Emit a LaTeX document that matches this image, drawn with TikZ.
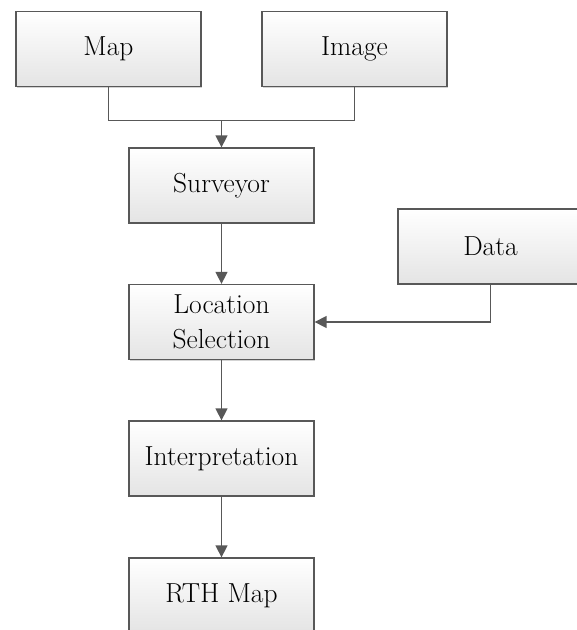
\documentclass[tikz,border=0pt]{standalone}
\usetikzlibrary{arrows.meta,shadows}
\definecolor{linegray}{RGB}{88,88,88}
\definecolor{boxbottom}{RGB}{228,228,228}
\tikzset{
  procbox/.style={draw=linegray, line width=1.3pt, top color=white, bottom color=boxbottom,
    minimum width=185pt, minimum height=75pt, inner sep=0pt, align=center,
    font=\fontsize{27.5}{35}\selectfont,
    drop shadow={shadow xshift=1.2pt, shadow yshift=-1.2pt, opacity=0.35, fill=gray}},
  conn/.style={draw=linegray, line width=1.4pt},
  arr/.style={conn, -{Triangle[width=12pt,length=12pt]}}
}
\begin{document}
\begin{tikzpicture}[x=1pt,y=-1pt]
\useasboundingbox (0,0) rectangle (577,630);
\node[procbox] (map) at (108.4,49) {Map};
\node[procbox] (image) at (354.5,49) {Image};
\node[procbox] (surveyor) at (221.5,185.5) {Surveyor};
\node[procbox] (data) at (490.5,246.5) {Data};
\node[procbox] (location) at (221.5,322) {Location\\Selection};
\node[procbox] (interp) at (221.5,458.5) {Interpretation};
\node[procbox] (rth) at (221.5,595.5) {RTH Map};
\coordinate (merge) at (221.5,120.7);
\draw[conn] (map.south) |- (merge);
\draw[conn] (image.south) |- (merge);
\draw[arr] (merge) -- (surveyor.north);
\draw[arr] (surveyor) -- (location);
\draw[arr] (data.south) |- (location.east);
\draw[arr] (location) -- (interp);
\draw[arr] (interp) -- (rth);
\end{tikzpicture}
\end{document}
